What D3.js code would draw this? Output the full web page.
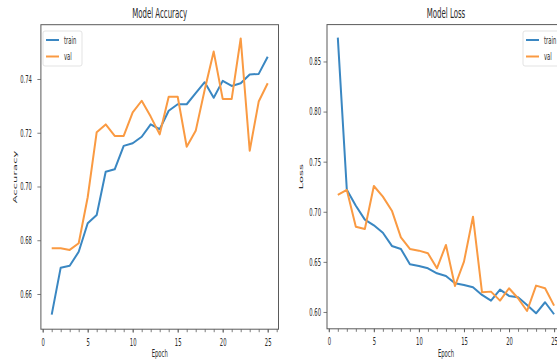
<!DOCTYPE html>
<html>
<head>
<meta charset="utf-8">
<script src="https://cdn.jsdelivr.net/npm/d3@7"></script>
<style>
  html, body { margin: 0; padding: 0; background: #fff; }
  svg { display: block; font-family: "DejaVu Sans", sans-serif; }
</style>
</head>
<body>
<svg id="chart" width="557" height="360"></svg>
<script>
// ---- data ----
const epochs = d3.range(1, 26);
const accTrain = [0.6523, 0.6698, 0.6705, 0.6757, 0.6863, 0.6894, 0.7055, 0.7064, 0.7151, 0.7161,
                  0.7185, 0.7231, 0.7213, 0.7282, 0.7306, 0.7306, 0.7347, 0.7388, 0.7330, 0.7393,
                  0.7374, 0.7384, 0.7417, 0.7419, 0.7483];
const accVal   = [0.6770, 0.6770, 0.6764, 0.6789, 0.6960, 0.7202, 0.7231, 0.7188, 0.7188, 0.7276,
                  0.7319, 0.7260, 0.7194, 0.7334, 0.7334, 0.7148, 0.7207, 0.7360, 0.7502, 0.7326,
                  0.7326, 0.7551, 0.7133, 0.7316, 0.7384];
const lossTrain = [0.8738, 0.7220, 0.7060, 0.6922, 0.6865, 0.6791, 0.6659, 0.6629, 0.6476, 0.6459,
                   0.6436, 0.6386, 0.6359, 0.6286, 0.6269, 0.6246, 0.6170, 0.6113, 0.6223, 0.6160,
                   0.6147, 0.6070, 0.5987, 0.6097, 0.5977];
const lossVal   = [0.7168, 0.7218, 0.6851, 0.6828, 0.7257, 0.7151, 0.7011, 0.6745, 0.6629, 0.6612,
                   0.6586, 0.6436, 0.6669, 0.6259, 0.6502, 0.6951, 0.6197, 0.6203, 0.6113, 0.6237,
                   0.6137, 0.6010, 0.6263, 0.6237, 0.6063];
const seriesNames = ["train", "val"];
const accTicks = [0.66, 0.68, 0.70, 0.72, 0.74];
const lossTicks = [0.60, 0.65, 0.70, 0.75, 0.80, 0.85];
const epochMajorTicks = [0, 5, 10, 15, 20, 25];
const epochMinorTicks = d3.range(0, 27);

// ---- drawing ----
const colors = { train: "#3a87c2", val: "#fa9a42" };
const SX = 0.5; // horizontal squeeze of the reference's text
const spine = "#5a5a5a";
const ink = "#2a2a2a";
const svg = d3.select("#chart");

function txt(g, x, y, s, size, anchor) {
  return g.append("text")
    .attr("transform", `translate(${x},${y}) scale(${SX},1)`)
    .attr("text-anchor", anchor)
    .attr("font-size", size)
    .attr("fill", ink)
    .text(s);
}

function panel(cfg) {
  const g = svg.append("g");
  const x = d3.scaleLinear().domain([-0.2, 26.2]).range([cfg.left, cfg.right]);
  const y = d3.scaleLinear().domain(cfg.ydom).range([cfg.bottom, cfg.top]);

  // lines
  const line = d3.line().x((d, i) => x(epochs[i])).y(d => y(d));
  [["train", cfg.train], ["val", cfg.val]].forEach(([name, vals]) => {
    g.append("path").datum(vals)
      .attr("d", line)
      .attr("fill", "none")
      .attr("stroke", colors[name])
      .attr("stroke-width", 2)
      .attr("stroke-linejoin", "round");
  });

  // x axis minor ticks
  const xMinor = g.append("g").attr("transform", `translate(0,${cfg.bottom})`)
    .call(d3.axisBottom(x).tickValues(epochMinorTicks).tickSize(3).tickFormat(""));
  xMinor.select(".domain").remove();
  xMinor.selectAll("line").attr("stroke", spine).attr("stroke-width", 0.8);

  // x axis major
  const xAx = g.append("g").attr("transform", `translate(0,${cfg.bottom})`)
    .call(d3.axisBottom(x).tickValues(epochMajorTicks).tickSize(3.5).tickPadding(5.5).tickFormat(d3.format("d")));
  xAx.select(".domain").remove();
  xAx.selectAll("line").attr("stroke", spine).attr("stroke-width", 0.8);
  xAx.selectAll("text").attr("font-size", 10.5).attr("fill", ink)
    .attr("font-family", "DejaVu Sans")
    .attr("transform", `scale(${SX},1)`);

  // y axis
  const yAx = g.append("g").attr("transform", `translate(${cfg.left},0)`)
    .call(d3.axisLeft(y).tickValues(cfg.yticks).tickSize(3.5).tickPadding(cfg.ypad).tickFormat(d3.format(".2f")));
  yAx.select(".domain").remove();
  yAx.selectAll("line").attr("stroke", spine).attr("stroke-width", 0.8);
  yAx.selectAll("text").attr("font-size", 10.5).attr("fill", ink)
    .attr("font-family", "DejaVu Sans")
    .attr("x", -(3.5 + cfg.ypad) / SX)
    .attr("transform", `scale(${SX},1)`);

  // frame
  g.append("rect")
    .attr("x", cfg.left).attr("y", cfg.top)
    .attr("width", cfg.right - cfg.left).attr("height", cfg.bottom - cfg.top)
    .attr("fill", "none").attr("stroke", spine).attr("stroke-width", 1);

  // title & labels
  txt(g, (cfg.left + cfg.right) / 2, 18, cfg.title, 14, "middle");
  txt(g, (cfg.left + cfg.right) / 2, 356.5, "Epoch", 10.5, "middle");
  g.append("text")
    .attr("transform", `translate(${cfg.ylabX},${(cfg.top + cfg.bottom) / 2}) rotate(-90) scale(1,${SX})`)
    .attr("text-anchor", "middle").attr("font-size", 11.5).attr("fill", ink)
    .text(cfg.ylabel);

  // legend
  const lg = g.append("g");
  lg.append("rect")
    .attr("x", cfg.legX).attr("y", 31).attr("width", 39).attr("height", 35)
    .attr("rx", 2).attr("fill", "#fff").attr("fill-opacity", 0.85)
    .attr("stroke", "#dcdcdc").attr("stroke-width", 0.8);
  seriesNames.forEach((name, i) => {
    const yy = 40 + i * 16.5;
    lg.append("line")
      .attr("x1", cfg.legX + 3).attr("x2", cfg.legX + 16)
      .attr("y1", yy).attr("y2", yy)
      .attr("stroke", colors[name]).attr("stroke-width", 2);
    txt(lg, cfg.legX + 21, yy + 3.5, name, 10.5, "start");
  });
}

panel({
  left: 40.9, right: 278.5, top: 24.7, bottom: 329.2,
  ydom: [0.6469, 0.7602], yticks: accTicks, ypad: 5.5,
  train: accTrain, val: accVal,
  title: "Model Accuracy", ylabel: "Accuracy", ylabX: 17, legX: 43
});
panel({
  left: 327, right: 564.9, top: 24.6, bottom: 328.8,
  ydom: [0.5832, 0.8868], yticks: lossTicks, ypad: 2.5,
  train: lossTrain, val: lossVal,
  title: "Model Loss", ylabel: "Loss", ylabX: 303, legX: 523
});
</script>
</body>
</html>
